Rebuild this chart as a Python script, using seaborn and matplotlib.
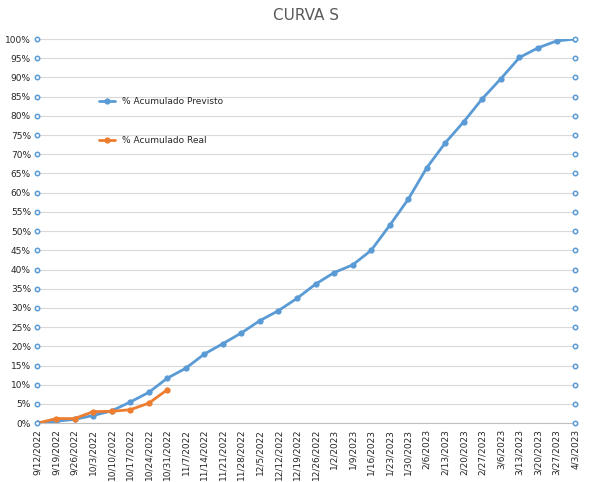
import matplotlib
matplotlib.use("Agg")
import matplotlib.pyplot as plt
import seaborn as sns
import pandas as pd

dates = ["9/12/2022", "9/19/2022", "9/26/2022", "10/3/2022", "10/10/2022", "10/17/2022",
         "10/24/2022", "10/31/2022", "11/7/2022", "11/14/2022", "11/21/2022", "11/28/2022",
         "12/5/2022", "12/12/2022", "12/19/2022", "12/26/2022", "1/2/2023", "1/9/2023",
         "1/16/2023", "1/23/2023", "1/30/2023", "2/6/2023", "2/13/2023", "2/20/2023",
         "2/27/2023", "3/6/2023", "3/13/2023", "3/20/2023", "3/27/2023", "4/3/2023"]
previsto = [0, 0.5, 1, 2, 3.2, 5.5, 8, 11.7, 14.3, 18, 20.7, 23.5, 26.7, 29.3, 32.5,
            36.2, 39.2, 41.2, 45, 51.5, 58.3, 66.5, 73, 78.5, 84.5, 89.7, 95.2, 97.7, 99.5, 100]
real = [0, 1.2, 1.2, 3, 3.1, 3.5, 5.2, 8.7]
edge_levels = list(range(0, 101, 5))

sns.set_style("white")
plt.rcParams['font.family'] = ['DejaVu Sans']

fig, ax = plt.subplots(figsize=(5.89, 4.82), dpi=100)
blue = "#5b9bd5"
orange = "#ed7d31"

df_p = pd.DataFrame({"x": range(len(previsto)), "y": previsto})
df_r = pd.DataFrame({"x": range(len(real)), "y": real})
sns.lineplot(data=df_p, x="x", y="y", ax=ax, color=blue, lw=2, marker="o",
             markersize=4.5, markeredgewidth=0, label="% Acumulado Previsto")
sns.lineplot(data=df_r, x="x", y="y", ax=ax, color=orange, lw=2, marker="o",
             markersize=4.5, markeredgewidth=0, label="% Acumulado Real")

# hollow markers along both edges
for xe in [0, len(dates) - 1]:
    ax.scatter([xe] * len(edge_levels), edge_levels, s=10, facecolors="white",
               edgecolors=blue, linewidths=1.1, zorder=5, clip_on=False)

ax.set_xlim(-0.05, len(dates) - 1 + 0.05)
ax.set_ylim(0, 100)
ax.set_yticks(edge_levels)
ax.set_yticklabels([f"{v}%" for v in edge_levels], fontsize=6.5)
ax.set_xticks(range(len(dates)))
ax.set_xticklabels(dates, rotation=90, fontsize=6.5)
ax.set_xlabel("")
ax.set_ylabel("")
ax.yaxis.grid(True, color="#d9d9d9", lw=0.8)
ax.tick_params(length=0, pad=4)
for s in ["top", "right", "left"]:
    ax.spines[s].set_visible(False)
ax.spines["bottom"].set_color("#bfbfbf")
ax.set_title("CURVA S", fontsize=11, color="#595959", pad=14)

ax.legend(loc="upper left", bbox_to_anchor=(0.1, 0.87), frameon=False, fontsize=6.5,
          labelspacing=3.3, handlelength=1.8)

fig.subplots_adjust(left=0.062, right=0.978, top=0.919, bottom=0.122)
fig.savefig("out.png", dpi=100)
